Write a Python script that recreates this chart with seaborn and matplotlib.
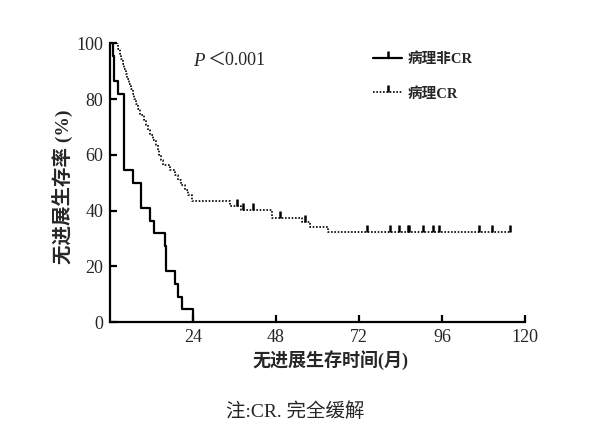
import numpy as np
import pandas as pd
import matplotlib
matplotlib.use('Agg')
import matplotlib.pyplot as plt
from matplotlib.lines import Line2D
import seaborn as sns

# 病理非CR: Kaplan-Meier steps (months, %)
noncr_time = [0, 1.0, 1.1, 1.2, 2.2, 4.0, 6.7, 8.9, 9.0, 11.6, 12.8, 15.9, 16.1, 18.8, 19.7, 20.9, 24.0]
noncr_surv = [100, 95.5, 90.9, 86.4, 81.8, 54.5, 50.0, 45.5, 40.9, 36.4, 31.8, 27.3, 18.2, 13.6, 9.1, 4.5, 0]

# 病理CR
cr_time = [0, 2.4, 2.8, 3.2, 3.7, 4.1, 4.6, 5.0, 5.5, 6.0, 6.6, 7.0, 7.6, 8.0, 8.6,
           9.8, 10.4, 11.0, 11.6, 12.4, 13.2, 13.8, 14.3, 14.8, 15.3, 17.4, 18.8,
           19.6, 20.6, 21.6, 22.6, 23.8, 34.7, 37.8, 46.8, 55.4, 57.8, 63.1, 115.7]
cr_surv = [100, 98.2, 96.4, 94.6, 92.8, 90.9, 89.1, 87.3, 85.5, 83.6, 81.8, 80.0, 78.2, 76.4, 74.5,
           72.7, 70.9, 69.1, 67.3, 65.5, 63.6, 61.8, 60.0, 58.2, 56.4, 54.5, 52.7,
           50.9, 49.1, 47.3, 45.5, 43.6, 41.8, 40.1, 37.4, 35.8, 34.1, 32.2, 32.2]
cr_censor = [36.6, 38.5, 41.4, 49.2, 56.5, 74.4, 81.0, 83.6, 86.1, 86.6, 90.6,
             93.3, 95.2, 106.6, 110.5, 115.7]

x_ticks = [24, 48, 72, 96, 120]
y_ticks = [0, 20, 40, 60, 80, 100]
labels = ['病理非CR', '病理CR']


def surv_at(times, surv, t):
    idx = np.searchsorted(times, t, side='right') - 1
    return np.asarray(surv)[idx]


def main():
    sns.set_style('ticks')
    plt.rcParams['font.family'] = ['Liberation Serif', 'Noto Sans CJK SC']

    fig = plt.figure(figsize=(6.02, 4.26), dpi=100)
    ax = fig.add_axes([0.1827, 0.2441, 0.6894, 0.6538])

    noncr = pd.DataFrame({'time': noncr_time, 'surv': noncr_surv})
    cr = pd.DataFrame({'time': cr_time, 'surv': cr_surv})
    sns.lineplot(data=noncr, x='time', y='surv', ax=ax, color='black', lw=1.6,
                 drawstyle='steps-post', estimator=None, sort=False)
    sns.lineplot(data=cr, x='time', y='surv', ax=ax, color='black', lw=1.2,
                 linestyle=(0, (1, 1)), drawstyle='steps-post', estimator=None, sort=False)
    ax.plot(cr_censor, surv_at(cr_time, cr_surv, cr_censor), ls='none', marker=2,
            ms=5, mew=1.8, color='black')

    ax.set_xlim(0, 120)
    ax.set_ylim(0, 100)
    ax.set_xticks(x_ticks)
    ax.set_yticks(y_ticks)
    ax.tick_params(direction='in', length=5, width=1.6, labelsize=13, pad=5, color='black')
    for side in ['top', 'right']:
        ax.spines[side].set_visible(False)
    for side in ['left', 'bottom']:
        ax.spines[side].set_linewidth(1.6)
        ax.spines[side].set_color('black')

    ax.set_xlabel('无进展生存时间(月)', fontsize=13, fontweight='bold')
    ax.xaxis.set_label_coords(0.53, -0.1)
    ax.set_ylabel('无进展生存率 (%)', fontsize=14, fontweight='semibold')
    ax.yaxis.set_label_coords(-0.09, 0.485)

    ax.text(24.0, 93.5, 'P', fontsize=13.5, style='italic', ha='left', va='center')
    ax.text(28.0, 93.5, '＜0.001', fontsize=13, ha='left', va='center')

    handles = [
        Line2D([], [], color='black', lw=1.6, marker=2, ms=5, mew=1.8),
        Line2D([], [], color='black', lw=1.2, ls=(0, (1, 1)), marker=2, ms=5, mew=1.8),
    ]
    fig.legend(handles, labels, loc='upper left', bbox_to_anchor=(0.598, 0.907),
               frameon=False, handlelength=2.0, handletextpad=0.4, labelspacing=1.4,
               prop={'size': 10.5, 'weight': 'bold'})

    fig.text(0.49, 0.035, '注:CR. 完全缓解', fontsize=14, ha='center', va='center')

    fig.savefig('out.png', dpi=100)
    plt.close(fig)


if __name__ == "__main__":
    main()
